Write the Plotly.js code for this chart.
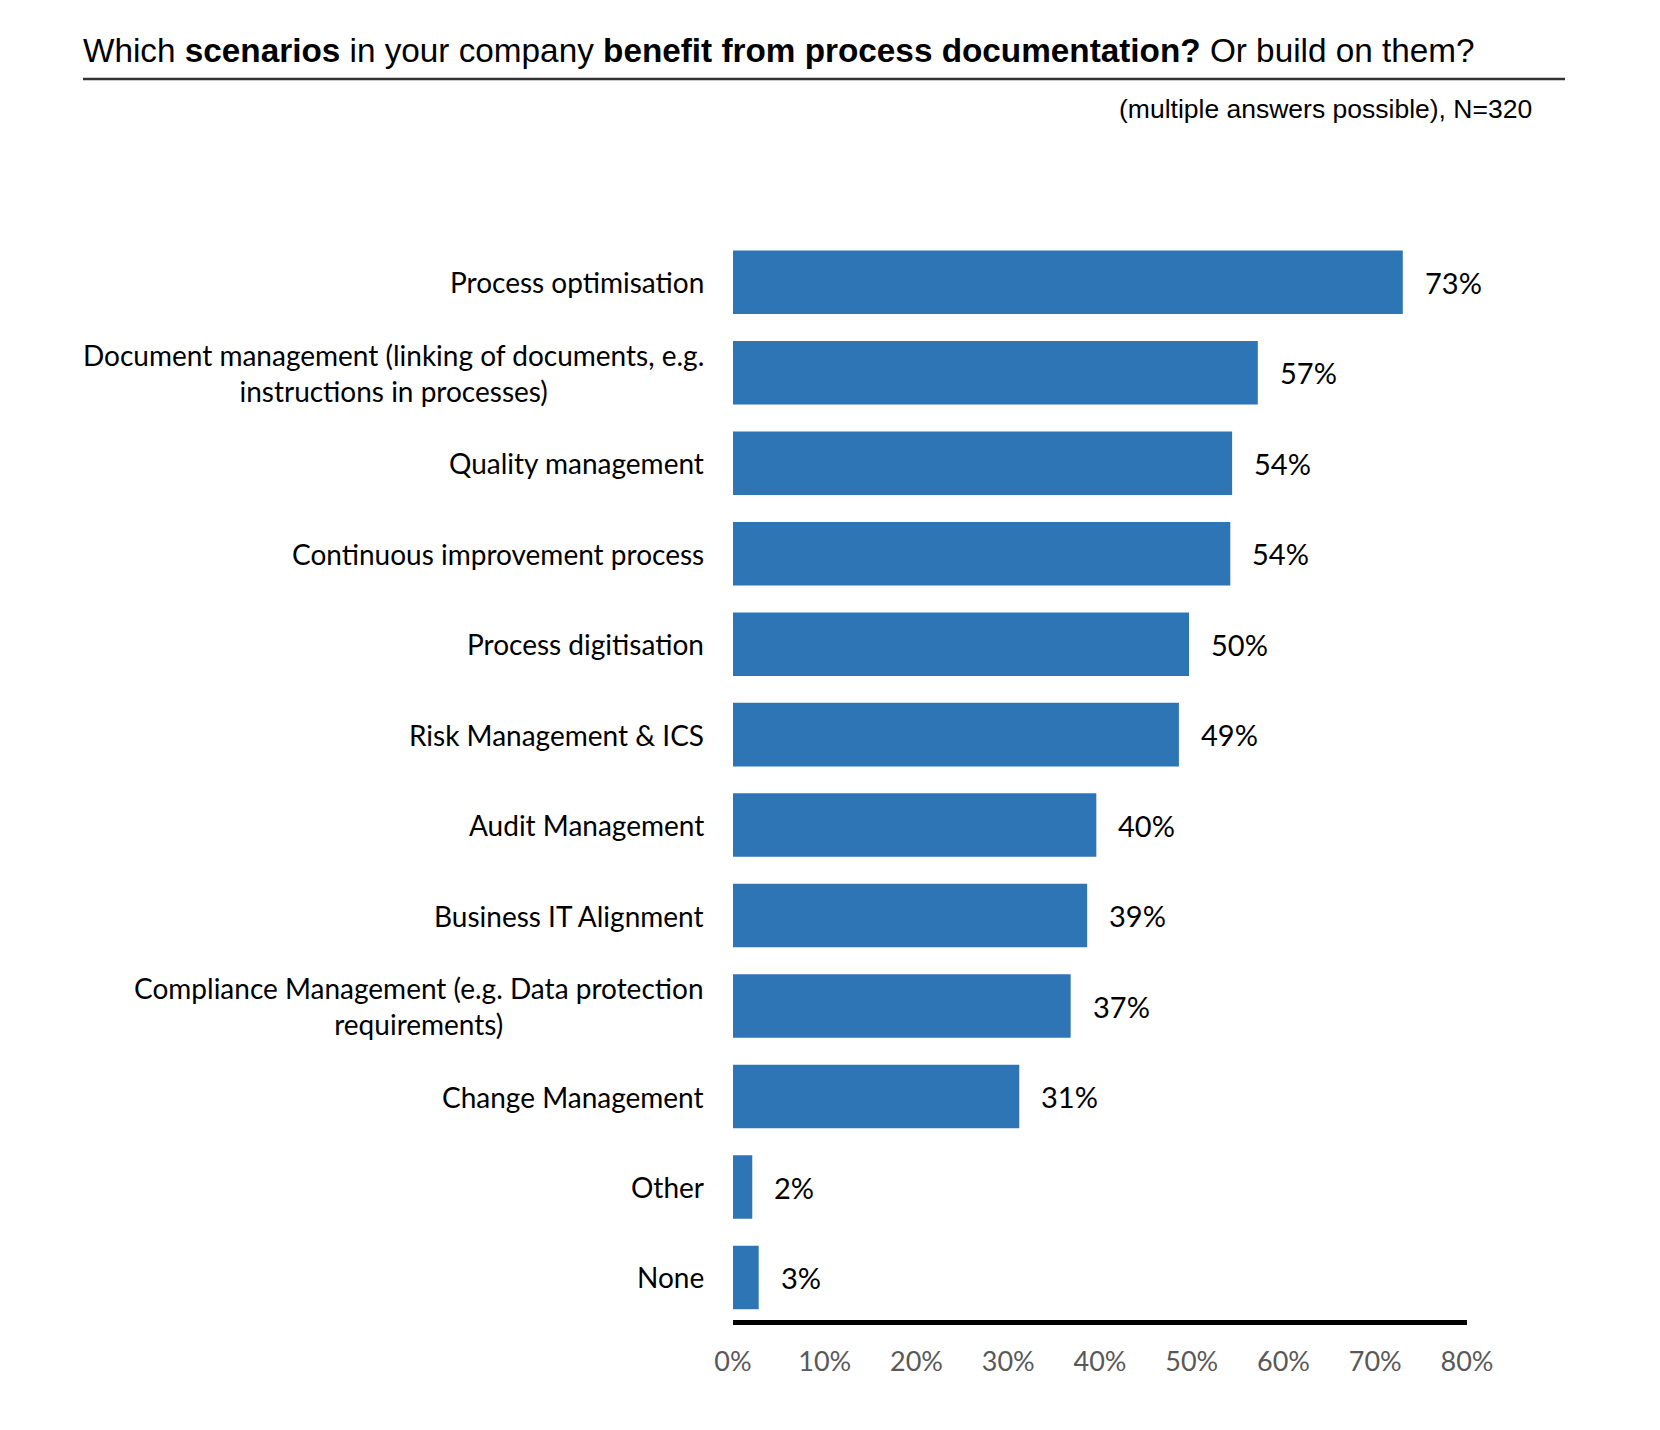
<!DOCTYPE html>
<html>
<head>
<meta charset="utf-8">
<script src="https://cdn.plot.ly/plotly-3.0.1.min.js"></script>
<style>html,body{margin:0;padding:0;background:#fff;}</style>
</head>
<body>
<div id="chart" style="width:1660px;height:1430px;"></div>
<script>
const categories = [
  "Process optimisation",
  "Document management (linking of documents, e.g.<br>instructions in processes)",
  "Quality management",
  "Continuous improvement process",
  "Process digitisation",
  "Risk Management & ICS",
  "Audit Management",
  "Business IT Alignment",
  "Compliance Management (e.g. Data protection<br>requirements)",
  "Change Management",
  "Other",
  "None"
];
const values = [73, 57.2, 54.4, 54.2, 49.7, 48.6, 39.6, 38.6, 36.8, 31.2, 2.1, 2.8];
const valueLabels = ["73%", "57%", "54%", "54%", "50%", "49%", "40%", "39%", "37%", "31%", "2%", "3%"];
const tickValues = [0, 10, 20, 30, 40, 50, 60, 70, 80];
const tickLabels = ["0%", "10%", "20%", "30%", "40%", "50%", "60%", "70%", "80%"];

const labelFont = "Lato, 'Noto Sans', sans-serif";
const keys = categories.map((c, i) => "c" + i);

const trace = {
  type: "bar",
  orientation: "h",
  x: values,
  y: keys,
  marker: { color: "#2E75B6" },
  hoverinfo: "skip"
};

const annotations = [];
keys.forEach((k, i) => {
  annotations.push({
    x: 0, y: k, xref: "x", yref: "y",
    text: categories[i], showarrow: false,
    xanchor: "right", yanchor: "middle", align: "center", xshift: -27,
    font: { family: labelFont, size: 28, color: "#000000" }
  });
  annotations.push({
    x: values[i], y: k, xref: "x", yref: "y",
    text: valueLabels[i], showarrow: false,
    xanchor: "left", yanchor: "middle", xshift: 20,
    font: { family: labelFont, size: 29, color: "#000000" }
  });
});
annotations.push({
  x: 1.0912, y: 1.118, xref: "paper", yref: "paper",
  text: "(multiple answers possible), N=320", showarrow: false,
  xanchor: "right", yanchor: "middle",
  font: { family: "'Liberation Sans', Arial, sans-serif", size: 26.5, color: "#000000" }
});

const layout = {
  width: 1660, height: 1430,
  paper_bgcolor: "#ffffff", plot_bgcolor: "#ffffff",
  margin: { l: 733, r: 193, t: 237, b: 110 },
  showlegend: false,
  bargap: 0.298,
  title: {
    text: "Which <b>scenarios</b> in your company <b>benefit from process documentation?</b> Or build on them?",
    xref: "container", yref: "container",
    x: 83 / 1660, xanchor: "left",
    y: 1 - 50 / 1430, yanchor: "middle",
    font: { family: "'Liberation Sans', Arial, sans-serif", size: 33.3, color: "#000000" }
  },
  xaxis: {
    range: [0, 80],
    tickvals: tickValues, ticktext: tickLabels,
    showgrid: false, zeroline: false,
    showline: true, linewidth: 5, linecolor: "#000000",
    ticks: "", ticklabelstandoff: 14,
    tickfont: { family: labelFont, size: 27, color: "#595959" },
    fixedrange: true
  },
  yaxis: {
    type: "category",
    range: [11.47, -0.5],
    showticklabels: false, showgrid: false, zeroline: false, showline: false,
    ticks: "", fixedrange: true
  },
  shapes: [{
    type: "line", xref: "paper", yref: "paper",
    x0: (83 - 733) / 734, x1: (1565 - 733) / 734,
    y0: (1320 - 79) / 1083, y1: (1320 - 79) / 1083,
    line: { color: "#333333", width: 2.5 }
  }],
  annotations: annotations
};

Plotly.newPlot("chart", [trace], layout, { displayModeBar: false, staticPlot: true });
</script>
</body>
</html>
